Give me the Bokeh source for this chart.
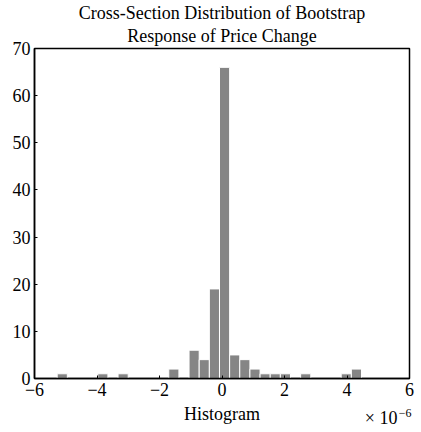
import numpy as np
from bokeh.plotting import figure
from bokeh.models import Title, FixedTicker, Range1d
from bokeh.embed import file_html
from bokeh.resources import INLINE

# Data (x in units of 1e-6)
title_line1 = "Cross-Section Distribution of Bootstrap"
title_line2 = "Response of Price Change"
x_label = "Histogram"
scale_base = "\u00d7 10"
scale_exp = "\u22126"
hist_min = -5.274
hist_max = 4.464
counts = [1, 0, 0, 0, 1, 0, 1, 0, 0, 0,
          0, 2, 0, 6, 4, 19, 66, 5, 4, 2,
          1, 1, 1, 0, 1, 0, 0, 0, 1, 2]
x_ticks = [-6, -4, -2, 0, 2, 4, 6]
y_ticks = [0, 10, 20, 30, 40, 50, 60, 70]

edges = np.linspace(hist_min, hist_max, len(counts) + 1)
lefts = edges[:-1]
rights = edges[1:]

FONT = "Liberation Serif"

p = figure(frame_width=375, frame_height=330, output_backend="svg",
           toolbar_location=None, x_range=Range1d(-6, 6), y_range=Range1d(0, 70),
           min_border_left=34, min_border_right=12, min_border_top=48,
           min_border_bottom=54, background_fill_color="white",
           border_fill_color="white")

p.quad(left=lefts, right=rights, bottom=0, top=counts,
       fill_color="#858585", line_color="white", line_width=1)

p.add_layout(Title(text=title_line2, align="center", text_font=FONT,
                   text_font_size="18px", text_font_style="normal",
                   text_color="black", standoff=5), "above")
p.add_layout(Title(text=title_line1, align="center", text_font=FONT,
                   text_font_size="18px", text_font_style="normal",
                   text_color="black", standoff=-2), "above")

p.xgrid.visible = False
p.ygrid.visible = False
p.outline_line_color = "black"
p.outline_line_width = 1.5
p.outline_line_alpha = 1.0

for ax in (p.xaxis[0], p.yaxis[0]):
    ax.major_tick_in = 3
    ax.major_tick_out = 0
    ax.minor_tick_line_color = None
    ax.axis_line_color = "black"
    ax.axis_line_width = 1.5
    ax.major_tick_line_color = "black"
    ax.major_label_text_font = FONT
    ax.major_label_text_font_size = "18px"
    ax.major_label_text_color = "black"

p.xaxis[0].ticker = FixedTicker(ticks=x_ticks)
p.yaxis[0].ticker = FixedTicker(ticks=y_ticks)
p.xaxis[0].major_label_overrides = {t: ("\u2212" + str(-t) if t < 0 else str(t)) for t in x_ticks}
p.xaxis[0].major_label_standoff = 4
p.yaxis[0].major_label_standoff = 4
p.xaxis[0].axis_label = x_label
p.xaxis[0].axis_label_text_font = FONT
p.xaxis[0].axis_label_text_font_size = "18px"
p.xaxis[0].axis_label_text_font_style = "normal"
p.xaxis[0].axis_label_text_color = "black"
p.xaxis[0].axis_label_standoff = 5

p.add_layout(Title(text=scale_base, align="right", vertical_align="top",
                   offset=12, standoff=-37, text_font=FONT,
                   text_font_size="18px", text_font_style="normal",
                   text_color="black"), "below")
p.add_layout(Title(text=scale_exp, align="right", vertical_align="top",
                   offset=-2, standoff=-36, text_font=FONT,
                   text_font_size="12px", text_font_style="normal",
                   text_color="black"), "below")

open("out.html", "w").write(file_html(p, INLINE))
